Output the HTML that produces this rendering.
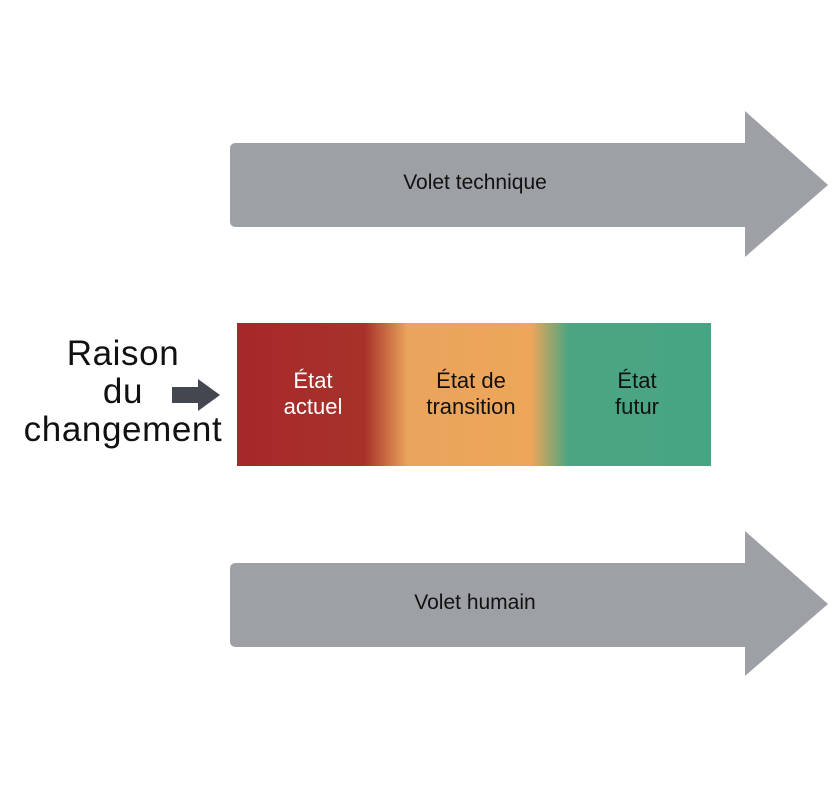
<!DOCTYPE html>
<html><head><meta charset="utf-8"><style>
html,body{margin:0;padding:0;background:#fff;}
body{width:840px;height:806px;position:relative;overflow:hidden;font-family:"Liberation Sans","DejaVu Sans",sans-serif;}
.t{position:absolute;text-align:center;}
</style></head><body>
<svg width="840" height="806" style="position:absolute;left:0;top:0">
<defs>
<linearGradient id="g" x1="0" x2="1" y1="0" y2="0">
<stop offset="0" stop-color="#a6282a"/>
<stop offset="0.27" stop-color="#a8322a"/>
<stop offset="0.36" stop-color="#eaa45c"/>
<stop offset="0.62" stop-color="#eda65a"/>
<stop offset="0.70" stop-color="#4aa582"/>
<stop offset="1" stop-color="#48a583"/>
</linearGradient>
</defs>
<path d="M236,143 H745 V111 L828,185 L745,257 V227 H236 Q230,227 230,221 V149 Q230,143 236,143 Z" fill="#9da0a5"/>
<path d="M236,563 H745 V531 L828,604 L745,676 V647 H236 Q230,647 230,641 V569 Q230,563 236,563 Z" fill="#9da0a5"/>
<rect x="237" y="323" width="474" height="143" fill="url(#g)"/>
<path d="M172,387 H198 V379 L220,395 L198,411 V403 H172 Z" fill="#434850"/>
</svg>
<div class="t" style="left:230px;width:490px;top:171px;font-size:21px;color:#111">Volet technique</div>
<div class="t" style="left:230px;width:490px;top:591px;font-size:21px;color:#111">Volet humain</div>
<div class="t" style="left:8px;width:230px;top:335px;font-size:35px;line-height:38px;letter-spacing:0.6px;color:#111">Raison<br>du<br>changement</div>
<div class="t" style="left:263px;width:100px;top:368px;font-size:22px;line-height:26px;color:#fff">État<br>actuel</div>
<div class="t" style="left:401px;width:140px;top:368px;font-size:22px;line-height:26px;color:#111">État de<br>transition</div>
<div class="t" style="left:587px;width:100px;top:368px;font-size:22px;line-height:26px;color:#111">État<br>futur</div>
</body></html>
